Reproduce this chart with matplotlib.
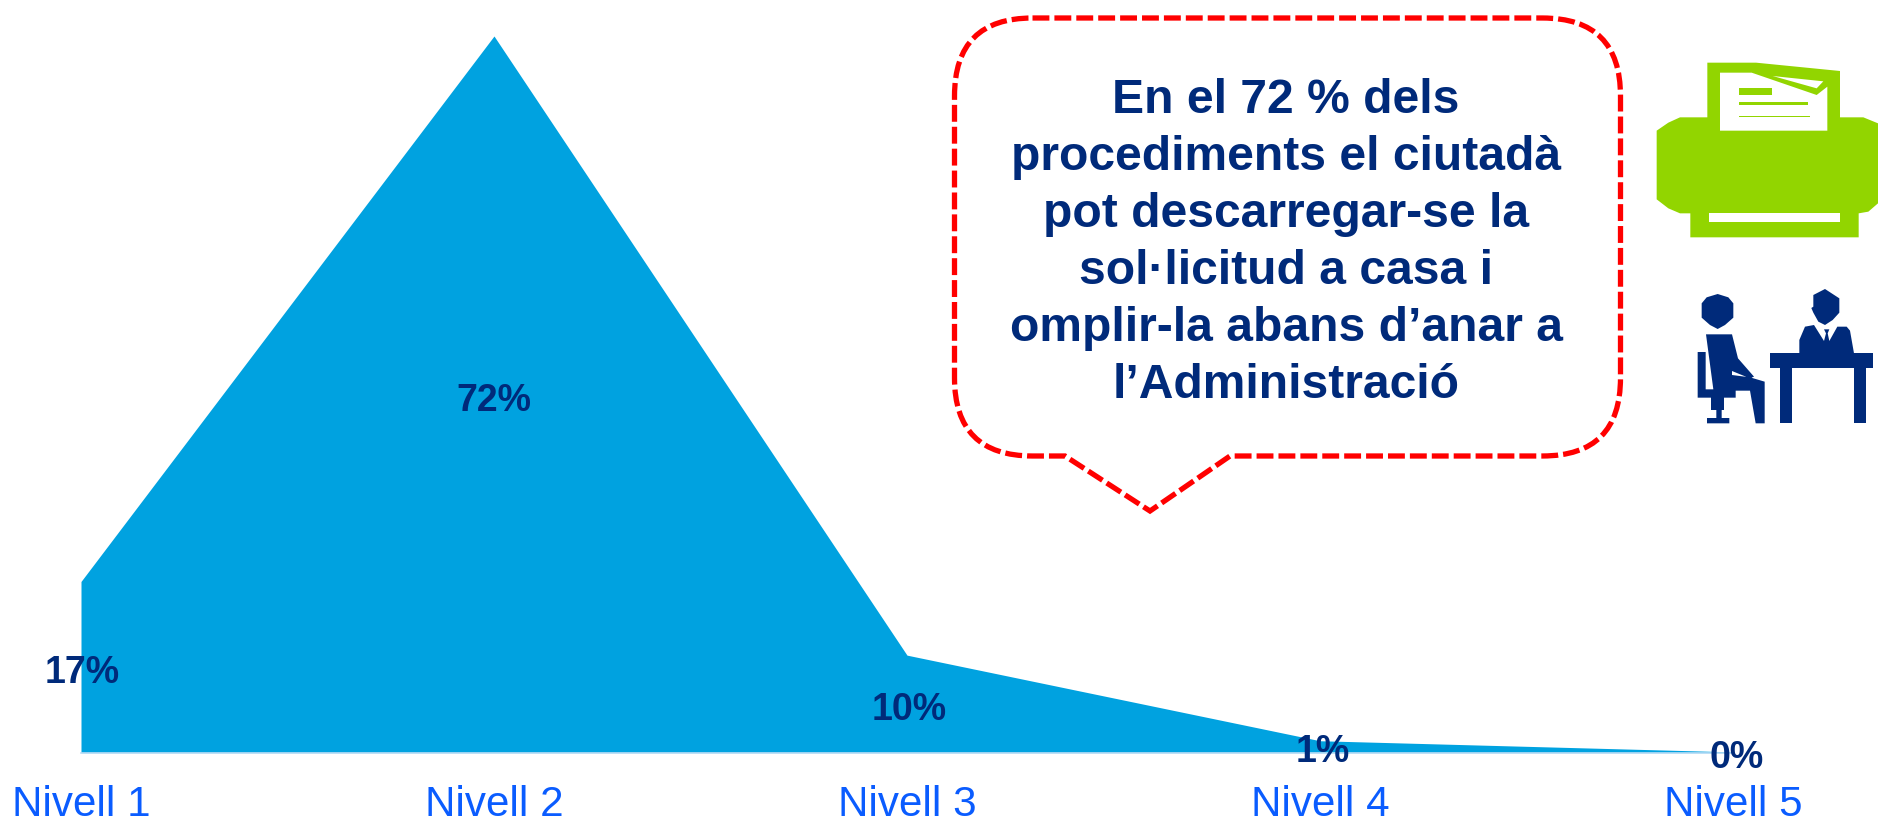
import matplotlib
matplotlib.use("Agg")
import matplotlib.pyplot as plt
from matplotlib.patches import Polygon, PathPatch
from matplotlib.path import Path

plt.rcParams['font.family'] = ['Liberation Sans', 'DejaVu Sans']

# ---- data ----
levels = ["Nivell 1", "Nivell 2", "Nivell 3", "Nivell 4", "Nivell 5"]
values = [17.2, 72.0, 9.8, 1.2, 0.08]
value_labels = ["17%", "72%", "10%", "1%", "0%"]
label_dx = [1, 0, 2, 3, 4]
label_dy = [-102, -375, -65, -21, -16]
callout_lines = ["En el 72 % dels", "procediments el ciutadà", "pot descarregar-se la",
                 "sol·licitud a casa i", "omplir-la abans d’anar a", "l’Administració"]

AREA = "#00A2E0"; NAVY = "#002A7A"; TICK = "#0A5CFF"; GREEN = "#92D500"; RED = "#FF0000"
W, H = 1878, 821
fig = plt.figure(figsize=(W/100, H/100), dpi=100, facecolor="white")

ax = fig.add_axes([81/W, (H-752.7)/H, 1652/W, 716.7/H])
xs = list(range(len(levels)))
ax.fill_between(xs, values, 0, color=AREA, lw=0, zorder=2)
ax.set_xlim(0, 4); ax.set_ylim(0, 72)
ax.set_yticks([])
ax.set_xticks(xs); ax.set_xticklabels(levels, fontsize=30.3, color=TICK)
ax.tick_params(axis='x', length=0, pad=23)
for s in ['top', 'left', 'right']:
    ax.spines[s].set_visible(False)
ax.spines['bottom'].set_color("#BBDDF6"); ax.spines['bottom'].set_linewidth(1.2)
ax.patch.set_alpha(0)
for x, v, t, dx, dy in zip(xs, values, value_labels, label_dx, label_dy):
    ax.annotate(t, xy=(x, v), xytext=(dx, dy), textcoords='offset pixels', ha='center', va='baseline',
                fontsize=27, fontweight='bold', color=NAVY, zorder=5, annotation_clip=False)

# overlay in pixel coordinates for the callout and the pictograms
ov = fig.add_axes([0, 0, 1, 1]); ov.set_xlim(0, W); ov.set_ylim(H, 0); ov.axis('off'); ov.patch.set_alpha(0)

# callout
L, R, T, B, r = 954.5, 1620.5, 18, 456, 78
verts = [(L+r, T), (R-r, T), (R, T), (R, T+r), (R, B-r), (R, B), (R-r, B), (1230, B), (1150, 511), (1065, B),
         (L+r, B), (L, B), (L, B-r), (L, T+r), (L, T), (L+r, T), (L+r, T)]
codes = [Path.MOVETO, Path.LINETO, Path.CURVE3, Path.CURVE3, Path.LINETO, Path.CURVE3, Path.CURVE3,
         Path.LINETO, Path.LINETO, Path.LINETO, Path.LINETO, Path.CURVE3, Path.CURVE3, Path.LINETO,
         Path.CURVE3, Path.CURVE3, Path.CLOSEPOLY]
ov.add_patch(PathPatch(Path(verts, codes), fc="white", ec=RED, lw=3.8, linestyle=(0, (3.2, 0.95)),
                       capstyle='butt', joinstyle='miter'))
for i, line in enumerate(callout_lines):
    ov.text(1286, 113 + i*57, line, ha='center', va='baseline', fontsize=34.6, fontweight='bold', color=NAVY)

# printer and people pictograms (3x zoomed pixel coordinates)
def P(pts, ox, oy, color, z=3):
    ov.add_patch(Polygon([(ox + x/3, oy + y/3) for x, y in pts], closed=True, fc=color, ec='none', zorder=z))

ox, oy = 1620, 40
P([(110,272),(145,248),(180,232),(262,232),(262,68),(408,68),(660,93),(660,232),(730,232),(774,250),(774,490),
   (745,515),(716,520),(716,592),(211,592),(211,520),(180,520),(145,505),(110,478)], ox, oy, GREEN)
P([(300,98),(395,98),(590,165),(622,140),(622,272),(300,272)], ox, oy, "white", 4)
P([(458,108),(610,124),(590,145)], ox, oy, "white", 4)
P([(357,145),(457,145),(457,165),(357,165)], ox, oy, GREEN, 5)
P([(357,186),(564,186),(564,196),(357,196)], ox, oy, GREEN, 5)
P([(357,227),(570,227),(570,232),(357,232)], ox, oy, GREEN, 5)
P([(268,520),(660,520),(660,546),(268,546)], ox, oy, "white", 4)

ox, oy = 1670, 270
P([(95,100),(110,82),(143,72),(175,82),(190,100),(190,143),(165,165),(143,177),(120,165),(95,143)], ox, oy, NAVY)
P([(108,193),(186,193),(204,265),(252,320),(240,325),(186,303),(186,315),(240,322),(284,335),(284,460),(257,460),
   (240,362),(197,362),(197,383),(162,383),(162,420),(155,420),(155,444),(178,444),(178,460),(111,460),(111,444),
   (139,444),(139,420),(123,420),(123,383),(83,383),(83,246),(107,246),(107,358),(130,358)], ox, oy, NAVY)
P([(430,75),(465,57),(508,85),(508,128),(488,150),(465,165),(445,155),(430,128),(424,114),(430,110)], ox, oy, NAVY)
P([(388,250),(388,210),(405,170),(432,165),(462,213),(468,190),(462,178),(478,178),(473,190),(478,213),(502,170),
   (530,170),(540,182),(552,250)], ox, oy, NAVY)
P([(300,250),(608,250),(608,294),(300,294)], ox, oy, NAVY)
P([(331,294),(367,294),(367,460),(331,460)], ox, oy, NAVY)
P([(552,294),(588,294),(588,460),(552,460)], ox, oy, NAVY)

fig.savefig("out.png", dpi=100)
